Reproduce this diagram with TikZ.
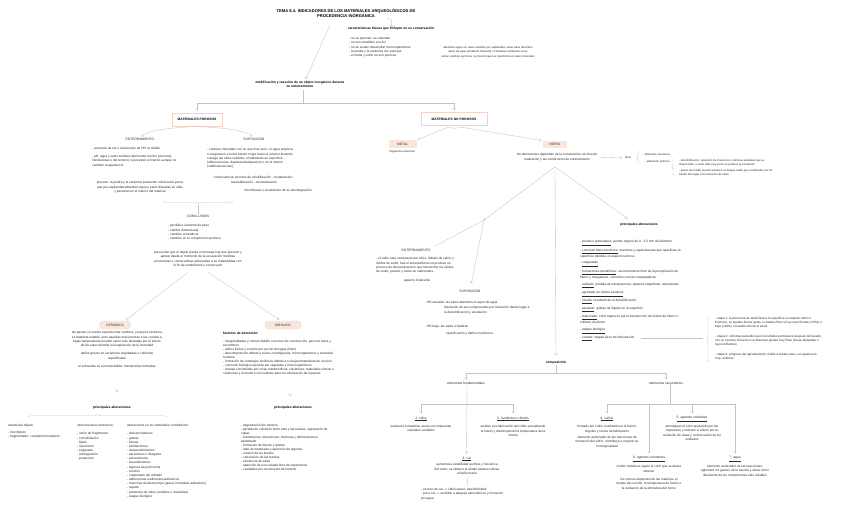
\documentclass[tikz,border=0pt]{standalone}
\usepackage{fontspec}
\setmainfont{Liberation Sans}
\usetikzlibrary{arrows.meta,decorations.pathreplacing,calc}
\definecolor{lg}{HTML}{C4C4C4}
\definecolor{pinkb}{HTML}{F5D2C4}
\definecolor{pinkf}{HTML}{FCE6DC}
\definecolor{tx}{HTML}{2A2A2A}
\newcommand{\fs}[2]{\fontsize{#1}{#2}\selectfont}
\tikzset{
  t/.style={inner sep=0pt, anchor=north west, align=left, text=tx, font=\fs{3.2}{4.05}},
  tc/.style={t, anchor=north, align=center},
  ts/.style={t, font=\fs{2.8}{3.4}},
  tsc/.style={ts, anchor=north, align=center},
  te/.style={t, font=\fs{3.05}{3.9}},
  lab/.style={inner sep=0pt, text=tx, font=\fs{3.3}{4}},
  labw/.style={lab, anchor=west},
  hd/.style={inner sep=0pt, text=black, align=center, font=\bfseries\fs{3.3}{4.5}},
  ttl/.style={inner sep=0pt, text=black, align=center, font=\bfseries\fs{4.1}{5}},
  conn/.style={draw=lg, line width=0.35pt},
  arr/.style={conn, -{Straight Barb[length=1.8pt,width=3pt]}},
  dbl/.style={draw=gray!60, line width=0.3pt, double=white, double distance=1.1pt, -Implies},
  pbox/.style={draw=pinkb, line width=0.6pt, fill=white, text=black, font=\bfseries\fs{3.3}{4}, minimum height=13pt, inner sep=0pt},
  pfill/.style={fill=pinkf, text=tx, font=\fs{3.3}{4}, minimum height=7.5pt, inner sep=0pt},
  ovl/.style={draw=gray!25, fill=pinkf, rounded corners=3.5pt, minimum height=8pt, inner sep=0pt, text=tx, font=\fs{3.3}{4}},
  brc/.style={conn, decorate, decoration={brace, amplitude=2.5pt}},
}
\begin{document}
\begin{tikzpicture}[x=1pt,y=-1pt]
\useasboundingbox[fill=white] (0,0) rectangle (848,509);

% ---------- top ----------
\node[ttl] (title) at (346,13.5) {TEMA 8.4. INDICADORES DE LOS MATERIALES ARQUEOLÓGICOS DE\\PROCEDENCIA INORGÁNICA};
\coordinate (th) at (387,18);
\node[hd] (carac) at (391,29) {características físicas que influyen en su conservación};
\draw[arr] (th) .. controls (393,19.5) and (392,23) .. (carac.north);
\node[t] (caracl) at (349,37.4) {- no se queman, se calientan\\- no son sensibles a la luz\\- no se suelen desarrollar microorganismos\\- la piedra y la cerámica son porosas\\- el metal y vidrio no son porosos};
\node[tsc] (abs) at (488,46.6) {absorben agua con sales solubles por capilaridad, estas sales absorben\\vapor de agua (ambiente húmedo) o cristalizan (ambiente seco)};
\node[ts, anchor=center] (sufr) at (488,57) {sufren cambios químicos (corrosión) que los transforma en sales minerales};

\coordinate (td) at (330,25);
\node[hd] (mod) at (300,84.5) {modificación y reacción de un objeto inorgánico durante\\su enterramiento};
\draw[arr, shorten >=2pt] (td) -- ($(mod.north)+(5,0)$);

\node[pbox, minimum width=50pt] (por) at (197,119.5) {MATERIALES POROSOS};
\node[pbox, minimum width=66pt] (nop) at (454,119) {MATERIALES NO POROSOS};
\coordinate (mj) at (303,103);
\draw[conn] ($(mod.south)+(3,2)$) -- (mj);
\draw[arr, shorten >=2pt] (mj) -| (por.north);
\draw[arr, shorten >=2pt] (mj) -| (nop.north);

% ---------- porosos ----------
\node[lab] (ent1) at (140,139) {ENTERRAMIENTO};
\node[lab] (exp1) at (254,139) {EXPOSICIÓN};
\draw[arr, shorten >=2pt] (por.south) .. controls (175,128) and (150,129) .. (ent1.north);
\draw[arr, shorten >=2pt] (por.south) .. controls (215,128) and (240,128) .. (exp1.north);

\node[t] (ent1a) at (92,147.4) {- ausencia de luz y variaciones de HR no dañan};
\node[t] (ent1b) at (92,155.4) {- pH, agua y sales solubles (del medio marino [cloruros],\\introducidas o del terreno) sí penetran el interior aunque no\\cambien la apariencia};
\node[tc] (proc) at (140,181.4) {proceso: la piedra y la cerámica presentan minúsculos poros\\que por capilaridad absorben agua y sales disueltas en ellas\\y penetran en el interior del material};

\node[t] (exp1a) at (207,148.4) {- contacto inmediato con un aire más seco: el agua empieza\\a evaporarse y la del interior migra hacia el exterior llevando\\consigo las sales solubles, cristalizando en superficie\\(eflorescencias, depósito blanquecino) o en el interior\\(subflorescencias)};
\node[tc] (cons) at (254,176.4) {consecuencia: proceso de solubilización - cristalización -\\resolubilización - recristalización};
\node[lab, font=\fs{3.2}{4}] (micro) at (278,191) {microfisuras y aceleración de su desintegración};

\coordinate (b1a) at (233,201);
\coordinate (b1b) at (163,201);
\draw[brc] (b1a) -- (b1b);
\node[lab] (conc) at (198,216) {CONCLUSIÓN};
\draw[conn] (198,205) -- (conc.north);
\node[t] (concl) at (168,224.4) {- pérdida o aumento de peso\\- cambio dimensional\\- cambios cromáticos\\- cambios en la composición química};
\node[tc] (para) at (198,251.4) {para evitar que el objeto pierda el mensaje hay que prevenir y\\aplicar desde el momento de la excavación medidas\\preventivas y conservativas adecuadas a su materialidad con\\el fin de estabilizarlo y conservarlo};

\node[ovl, minimum width=31pt] (cer) at (115,325) {CERÁMICA};
\node[ovl, minimum width=36pt] (mos) at (283,325) {MOSAICO};
\draw[arr, shorten <=9pt, shorten >=1pt] ($(para.south)+(-3,0)$) -- ($(cer.north)+(10,0)$);
\draw[arr, shorten <=9pt, shorten >=2pt] ($(para.south)+(2,0)$) -- ($(mos.north)+(-2,0)$);

% ceramica
\node[tc] (cer1) at (117,331.4) {las pastas no suelen experimentar cambios, ya que la cerámica\\es bastante estable, pero aquellas más porosas o las cocidas a\\bajas temperaturas pueden verse más alteradas por el efecto\\de las sales durante la evaporación de la humedad};
\node[tc] (cer2) at (117,352.4) {daños graves en cerámicas engobadas o cubiertas\\superficiales};
\node[lab, font=\fs{3.2}{4}] (cer3) at (117,366) {al extraerlas es recomendables mantenerlas húmedas};
\node[hd] (pa1) at (112,408) {principales alteraciones};
\draw[dbl] ($(cer3.south)+(0,9)$) -- ($(pa1.north)+(5,-14)$);
\coordinate (b2a) at (28,417);
\coordinate (b2b) at (167,417);
\draw[brc] (b2a) -- (b2b);

\node[t] (est) at (8,424.4) {estado del objeto:};
\node[t] (estl) at (8,431.4) {- incompleto\\- fragmentado: completo/incompleto};
\node[t] (int) at (77,424.4) {intervenciones anteriores:};
\node[t] (intl) at (77,432.4) {- unión de fragmentos\\- consolidación\\- fijado\\- reposición\\- engasado\\- reintegración\\- protección};
\node[t] (alt) at (127,424.4) {alteraciones en los materiales constitutivos:};
\node[t, font=\fs{3.2}{4.15}] (altl) at (127,432.4) {- desconchaduras\\- grietas\\- fisuras\\- exfoliaciones\\- desprendimientos\\- abrasiones o desgaste\\- pulverulencia\\- levantamientos\\- lagunas de policromía\\- erosión\\- craquelado del vidriado\\- adherencias sedimentos/adhesivos\\- manchas de diverso tipo (grasa, humedad, adhesivos)\\- rayado\\- presencia de sales (solubles e insolubles)\\- ataque biológico};

% mosaico
\node[hd, anchor=west] (fac) at (223,333) {factores de alteración:};
\node[t, font=\fs{3.2}{4.0}] (facl) at (223,340.4) {- irregularidades y roturas debido a errores de construcción, paso de tierra y\\escombros\\- daños físicos y erosión por acción del agua (hielo)\\- descomposición debido a raíces, madrigueras, microorganismos y actividad\\humana\\- formación de complejos arcillosos debido a su baja temperatura de cocción\\- corrosión biológica ejercida por vegetales y microorganismos\\- teselas constituidas por rocas metamórficas, volcánicas, materiales vítreos o\\cerámicas y el mortero son sustrato para la colonización de líquenes.};
\node[hd] (pa2) at (293,408) {principales alteraciones};
\draw[dbl] ($(pa2.north)+(-3,-26)$) -- ($(pa2.north)+(-3,-10)$);
\node[t, font=\fs{3.2}{3.95}] (pa2l) at (241,424.4) {- degradación del mortero\\- pérdida de cohesión entre éste y las teselas, separación de\\capas\\- hundimiento, elevaciones, fracturas y deformaciones,\\abombado\\- formación de fisuras y grietas\\- falta de materiales y aparición de lagunas\\- erosión de los bordes\\- calcinación de las teselas\\- existencia de sales\\- aparición de una variada flora de organismos\\- cavidades por movimiento del terreno};

% ---------- no porosos ----------
\node[pfill, minimum width=28pt] (metal) at (402.5,144) {METAL};
\node[pfill, minimum width=24pt] (vid) at (554.5,144.5) {VIDRIO};
\draw[conn] ($(nop.south)+(-6,1.5)$) .. controls (450,128.5) and (458,128.5) .. ($(nop.south)+(8,1.5)$);
\draw[arr, shorten >=1pt] ($(nop.south)+(-6,1.5)$) -- (metal.north east);
\draw[arr, shorten >=1pt] ($(nop.south)+(8,1.5)$) -- (vid.north west);
\node[lab, font=\fs{2.8}{3.4}] (sig) at (402,152) {(Siguiente esquema)};

\node[tc] (vtx) at (557,153.4) {las alteraciones dependen de la composición, técnica de\\realización y las condiciones de enterramiento};
\node[lab, font=\fs{2.8}{3.4}] (tip) at (628,158) {tipos};
\draw[arr, shorten <=2pt, shorten >=3pt] (vtx.east) -- (tip.west);
\coordinate (b3a) at (639,164);
\coordinate (b3b) at (639,151);
\draw[brc, decoration={amplitude=2pt}] (b3a) -- (b3b);
\node[lab, anchor=west, font=\fs{2.8}{3.4}] (amec) at (643,154) {- alteración mecánica};
\node[lab, anchor=west, font=\fs{2.8}{3.4}] (aqui) at (645,162) {- alteración química};
\coordinate (b4a) at (674,176);
\coordinate (b4b) at (674,159);
\draw[brc, decoration={amplitude=2pt}] (b4a) -- (b4b);
\node[ts] (desv) at (679,159.6) {- desvitrificación: aparición de irisaciones o láminas paralelas que se\\desprenden, o entre ellas hay poros se produce la exudación};
\node[ts] (gas) at (679,169.6) {- gases del medio pueden producir un ataque ácido que combinado con los\\álcalis dan lugar a la formación de sales};

\coordinate (vj) at (555,167);
\coordinate (jn) at (484,220);
\draw[arr] (vj) -- (jn);
\node[lab] (ent2) at (416,250) {ENTERRAMIENTO};
\node[lab] (exp2) at (470,291) {EXPOSICIÓN};
\draw[conn, shorten >=5pt] (jn) -- (ent2.north east);
\draw[arr, shorten >=6pt] (jn) -- (exp2.north);
\node[hd] (comp) at (556,363) {composición};
\draw[arr, shorten >=6pt] (vj) -- (comp.north);
\node[hd] (pa3) at (639,225) {principales alteraciones};
\draw[arr, shorten >=8pt] (vj) -- ($(pa3.north)+(-5,0)$);

\node[t] (ent2a) at (376,257.4) {- el vidrio está compuesto por sílice, hidrato de calcio y\\óxidos de sodio, tras el enterramiento se produce un\\proceso de descomposición que transforma los óxidos\\de sodio, potasio y calcio en carbonatos.};
\node[lab, font=\fs{3.2}{4}] (iris) at (417,281) {aspecto irisdicente};
\node[labw, font=\fs{3.2}{4}] (hra) at (425,303) {- HR elevada: las sales absorben el vapor de agua};
\node[t, font=\fs{3.2}{4.6}] (dis) at (444,306.4) {disolución de sus componentes por lixiviación dando lugar a\\la desvitrificación y exudación};
\node[labw, font=\fs{3.2}{4}] (hrb) at (425,327) {- HR baja: las sales cristalizan};
\node[labw, font=\fs{3.2}{4}] (opa) at (446,334) {opacificación y daños mecánicos};

% principales alteraciones vidrio
\node[t] (p1) at (580,240.4) {- \underline{picado o punteadura}: puntos negros de 0 - 2,5 mm de diámetro};
\node[t] (p2) at (580,249.4) {- \underline{corrosión blanca lechosa}: manchas y rayas blancas que opacifican la\\superficie dándole un aspecto lechoso};
\node[t] (p3) at (580,261.4) {- \underline{craquelado}};
\node[t] (p4) at (580,270.4) {- \underline{formaciones dendríticas}: oscurecimiento fruto de la precipitación de\\hierro y manganeso, coinciden con las craqueladuras};
\node[t] (p5) at (580,283.4) {- \underline{nublado}: pérdida de transparencia, aparece empañado, deslustrado};
\node[t] (p6) at (580,291.4) {- \underline{agrietado en vidrios alcalinos}};
\node[t] (p7) at (580,299.4) {- \underline{irisado}: resultado de la desvitrificación};
\node[t] (p8) at (580,307.4) {- \underline{exudado}: gotitas de líquido en la superficie};
\node[t] (p9) at (580,315.4) {- \underline{manchado}: color negruzco por la introducción de óxidos de hierro o\\sulfatos de plomo};
\node[t] (p10) at (580,328.4) {- \underline{ataque biológico}};
\node[t] (p11) at (580,336.4) {- \underline{crizado}: etapas de la microfisuración};
\coordinate (cz) at (703,338);
\draw[conn, shorten <=6pt] (p11.east |- cz) -- (cz);
\coordinate (b5a) at (709,362);
\coordinate (b5b) at (709,316);
\draw[brc, decoration={amplitude=2pt}] (b5a) -- (b5b);
\node[te] (e1) at (715,317.5) {- etapa 1: la presencia de álcali lleva a la superficie un aspecto turbio o\\brumoso, se pueden formar gotas o cristales finos si hay una HR alta (>55\%) o\\baja (<40\%), el lavado elimina el álcali};
\node[te] (e2) at (715,335.5) {- etapa 2: síntomas parecidos pero la turbidez permanece después del lavado,\\con un examen minucioso se observan grietas muy finas (líneas plateadas o\\rayos brillantes)};
\node[te] (e3) at (715,353.5) {- etapa 3: progreso del agrietamiento, visible a simple vista, con apariencia\\muy uniforme};

% composicion
\node[lab] (ef) at (466,383) {elementos fundamentales};
\node[lab] (es) at (666,383) {elementos secundarios};
\coordinate (cj) at (556,373);
\draw[conn] (comp.south) -- (cj);
\draw[arr, shorten >=2pt] (cj) -| (ef.north);
\draw[arr, shorten >=2pt] (cj) -| (es.north);

\node[lab] (s1) at (421,419) {\underline{1. sílice}};
\node[lab] (s2) at (513,419) {\underline{2. fundentes o álcalis}};
\node[lab] (s3) at (466.5,459) {\underline{3. cal}};
\coordinate (fj) at (467,404);
\draw[arr, shorten >=3pt] (ef.south -| fj) -- (s3.north);
\draw[arr, shorten >=3pt] (fj) -| (s1.north);
\draw[arr, shorten >=3pt] (fj) -| (s2.north);
\node[tc] (s1t) at (421,425.4) {sustancia formadora, arena con impurezas\\naturales variables};
\node[tc] (s2t) at (513,425.4) {ayudan a la fabricación del vidrio precipitando\\la fusión y disminuyendo la temperatura de la\\misma};
\node[tc] (s3t) at (467,463.4) {aumenta la estabilidad química y mecánica\\del vidrio, se obtiene al añadir piedras calizas\\al baño maría};
\node[t] (s3l) at (421,488.4) {- exceso de cal --> vidrio opaco, desvitrificable\\- poca cal --> sensible a ataques atmosféricos y lixiviación\\por agua};
\draw[conn, draw=lg!60] ($(s3t.south)+(0,4)$) -- ($(s3l.north -| s3t.south)+(0,-3)$);

\node[lab] (s4) at (607,419) {\underline{4. calcín}};
\node[lab] (s5) at (692,419) {\underline{5. agentes oxidantes}};
\node[lab] (s6) at (649,459) {\underline{6. agentes colorantes}};
\node[lab] (s7) at (735,459) {\underline{7. agua}};
\coordinate (sj) at (670,404);
\draw[conn] (es.south -| sj) -- (sj);
\draw[arr, shorten >=3pt] (sj) -| (s4.north);
\draw[arr, shorten >=3pt] (sj) -| (s5.north);
\draw[arr, shorten >=3pt] (sj) -| (s6.north);
\draw[arr, shorten >=3pt] (sj) -| (s7.north);
\node[tc] (s4a) at (607,425.4) {formado por vidrio reutilizado en la fusión,\\lingotes y restos de fabricación};
\node[tc] (s4b) at (607,436.4) {elemento acelerador de las reacciones de\\formación del vidrio, contribuye a mejorar su\\homogeneidad};
\node[tc] (s5a) at (692,425.4) {amortiguan el color producido por las\\impurezas y reducen el efecto por la\\oxidación de estas y conservación de los\\oxidados};
\node[tc] (s6a) at (649,465.4) {óxidos metálicos según el color que se desee\\obtener};
\node[tc] (s6b) at (649,478.4) {los colores dependen de las materias, el\\tiempo de cocción, la temperatura de fusión o\\la oxidación de la atmósfera del horno};
\node[tc] (s7a) at (735,465.4) {elemento acelerador de las reacciones,\\aglomera los granos de la mezcla y actúa como\\disolvente de los componentes más solubles};
\end{tikzpicture}
\end{document}
